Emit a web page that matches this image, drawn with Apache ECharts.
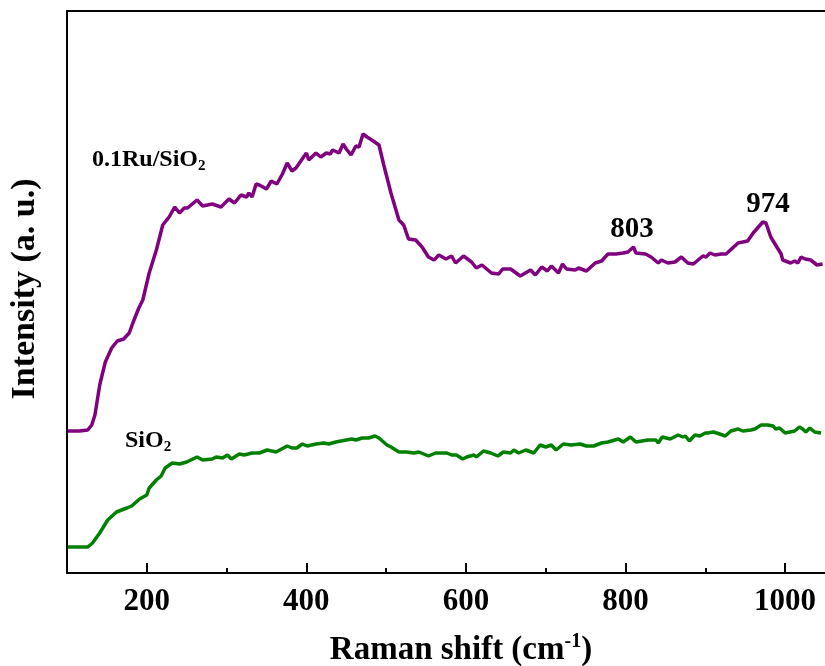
<!DOCTYPE html>
<html>
<head>
<meta charset="utf-8">
<script src="https://cdn.jsdelivr.net/npm/echarts@6/dist/echarts.min.js"></script>
<style>
  html, body { margin: 0; padding: 0; background: #fff; }
  #main { width: 825px; height: 666px; }
</style>
</head>
<body>
<div id="main"></div>
<script>
// Raman shift (cm-1) and intensity (a. u., offset)
var shiftRu = [101, 116, 126, 131, 135, 141, 148, 156, 163, 171, 178, 183, 190, 195, 203, 212, 220, 228, 235, 241,
  247, 251, 263, 270, 282, 293, 303, 310, 318, 325, 328, 332, 337, 341, 350, 356, 363, 370, 376, 382,
  387, 400, 403, 412, 418, 425, 430, 433, 441, 446, 450, 456, 462, 466, 471, 476, 482, 491, 497, 506,
  516, 522, 528, 537, 545, 553, 560, 566, 575, 582, 587, 597, 607, 613, 620, 632, 641, 646, 656, 668,
  681, 687, 695, 702, 707, 716, 721, 726, 737, 741, 751, 762, 770, 778, 788, 797, 803, 810, 813, 825,
  832, 841, 845, 853, 862, 870, 878, 885, 897, 901, 906, 912, 920, 926, 941, 953, 960, 972, 976, 982,
  995, 997, 1007, 1012, 1016, 1020, 1025, 1032, 1040, 1047];
var intensityRu = [142, 142, 143, 148, 158, 188, 211, 225, 232, 234, 240, 251, 265, 273, 300, 323, 348, 356, 366, 360,
  365, 365, 373, 367, 369, 366, 374, 370, 378, 376, 380, 376, 389, 388, 384, 392, 389, 399, 410, 402,
  405, 420, 413, 420, 416, 420, 419, 423, 420, 429, 424, 418, 427, 426, 439, 436, 433, 428, 408, 380,
  353, 348, 334, 333, 326, 316, 313, 318, 314, 317, 310, 317, 311, 305, 308, 300, 299, 304, 304, 297,
  303, 298, 306, 302, 307, 300, 309, 304, 303, 305, 302, 310, 312, 319, 319, 320, 321, 326, 320, 319,
  316, 310, 313, 310, 311, 316, 310, 309, 317, 316, 320, 318, 319, 319, 330, 332, 340, 351, 350, 336,
  319, 313, 310, 312, 310, 316, 314, 313, 308, 309];

var shiftSi = [101, 126, 132, 141, 151, 162, 175, 181, 191, 200, 203, 212, 218, 223, 232, 241, 250, 252, 263, 270,
  282, 287, 295, 301, 306, 316, 322, 332, 341, 351, 362, 376, 382, 388, 395, 401, 412, 422, 428, 437,
  450, 457, 462, 470, 478, 486, 491, 501, 506, 516, 525, 535, 541, 553, 562, 576, 582, 588, 596, 601,
  610, 613, 622, 631, 640, 647, 656, 660, 666, 675, 685, 693, 700, 707, 713, 722, 732, 743, 751, 760,
  770, 778, 791, 797, 806, 813, 828, 838, 841, 846, 856, 866, 872, 875, 880, 887, 893, 900, 903, 910,
  918, 925, 932, 941, 947, 957, 962, 970, 978, 985, 988, 993, 1000, 1006, 1012, 1018, 1022, 1026, 1031, 1037,
  1045];
var intensitySi = [26, 26, 30, 40, 53, 61, 65, 67, 74, 78, 85, 93, 97, 105, 110, 109, 111, 110, 116, 113,
  114, 116, 115, 118, 114, 119, 118, 120, 120, 123, 121, 127, 125, 125, 129, 127, 129, 130, 129, 131,
  133, 134, 133, 135, 135, 137, 135, 128, 126, 121, 121, 120, 121, 117, 120, 120, 118, 118, 114, 116,
  118, 116, 122, 120, 117, 121, 120, 123, 120, 123, 120, 128, 126, 128, 123, 129, 128, 129, 127, 127,
  130, 131, 134, 131, 136, 131, 133, 133, 130, 136, 134, 138, 136, 137, 132, 138, 137, 140, 140, 141,
  139, 137, 142, 144, 142, 143, 144, 148, 148, 147, 144, 145, 140, 141, 142, 146, 144, 141, 145, 141,
  140];

var majorTicks = [200, 400, 600, 800, 1000];
var minorTicks = [300, 500, 700, 900];

function pairs(xs, ys) {
  var out = [];
  for (var i = 0; i < xs.length; i++) {
    out.push([xs[i], ys[i]]);
  }
  return out;
}

var serif = "'Liberation Serif', 'Times New Roman', serif";
var chart = echarts.init(document.getElementById('main'));

var option = {
  animation: false,
  backgroundColor: '#fff',
  grid: {
    left: 67,
    top: 11,
    width: 760,
    height: 562
  },
  xAxis: [{
    type: 'value',
    min: 100,
    max: 1050,
    axisLine: { lineStyle: { color: '#000', width: 2 } },
    axisTick: {
      inside: true,
      length: 10,
      lineStyle: { color: '#000', width: 2 },
      customValues: majorTicks
    },
    axisLabel: {
      customValues: majorTicks,
      formatter: function (v) { return String(v); },
      margin: 13,
      color: '#000',
      fontFamily: serif,
      fontWeight: 'bold',
      fontSize: 31
    },
    splitLine: { show: false }
  }, {
    type: 'value',
    position: 'bottom',
    min: 100,
    max: 1050,
    axisLine: { show: false },
    axisTick: {
      inside: true,
      length: 5,
      lineStyle: { color: '#000', width: 2 },
      customValues: minorTicks
    },
    axisLabel: { show: false },
    splitLine: { show: false }
  }, {
    // top frame line only
    type: 'value',
    position: 'top',
    min: 100,
    max: 1050,
    axisLine: { show: true, lineStyle: { color: '#000', width: 2 } },
    axisTick: { show: false },
    axisLabel: { show: false },
    splitLine: { show: false }
  }],
  yAxis: {
    type: 'value',
    min: 0,
    max: 562,
    axisLine: { show: true, lineStyle: { color: '#000', width: 2 } },
    axisTick: { show: false },
    axisLabel: { show: false },
    splitLine: { show: false }
  },
  series: [{
    name: '0.1Ru/SiO2',
    type: 'line',
    data: pairs(shiftRu, intensityRu),
    symbol: 'none',
    lineStyle: { color: '#800080', width: 3.5 }
  }, {
    name: 'SiO2',
    type: 'line',
    data: pairs(shiftSi, intensitySi),
    symbol: 'none',
    lineStyle: { color: '#008000', width: 3.5 }
  }],
  graphic: [{
    type: 'text',
    x: 92, y: 160,
    style: {
      text: '{a|0.1Ru/SiO}{s|2}',
      textVerticalAlign: 'middle',
      rich: {
        a: { fontFamily: serif, fontWeight: 'bold', fontSize: 24, fill: '#000' },
        s: { fontFamily: serif, fontWeight: 'bold', fontSize: 15, fill: '#000', padding: [13, 0, 0, 0] }
      }
    }
  }, {
    type: 'text',
    x: 125, y: 441,
    style: {
      text: '{a|SiO}{s|2}',
      textVerticalAlign: 'middle',
      rich: {
        a: { fontFamily: serif, fontWeight: 'bold', fontSize: 24, fill: '#000' },
        s: { fontFamily: serif, fontWeight: 'bold', fontSize: 15, fill: '#000', padding: [13, 0, 0, 0] }
      }
    }
  }, {
    type: 'text',
    x: 632, y: 230,
    style: {
      text: '803',
      textAlign: 'center',
      textVerticalAlign: 'middle',
      fontFamily: serif, fontWeight: 'bold', fontSize: 29, fill: '#000'
    }
  }, {
    type: 'text',
    x: 768, y: 205,
    style: {
      text: '974',
      textAlign: 'center',
      textVerticalAlign: 'middle',
      fontFamily: serif, fontWeight: 'bold', fontSize: 29, fill: '#000'
    }
  }, {
    type: 'text',
    x: 461, y: 650,
    style: {
      text: '{a|Raman shift (cm}{p|-1}{a|)}',
      textAlign: 'center',
      textVerticalAlign: 'middle',
      rich: {
        a: { fontFamily: serif, fontWeight: 'bold', fontSize: 33, fill: '#000' },
        p: { fontFamily: serif, fontWeight: 'bold', fontSize: 20, fill: '#000', padding: [0, 0, 16, 0] }
      }
    }
  }, {
    type: 'text',
    x: 25, y: 289,
    rotation: Math.PI / 2,
    style: {
      text: 'Intensity (a. u.)',
      textAlign: 'center',
      textVerticalAlign: 'middle',
      fontFamily: serif, fontWeight: 'bold', fontSize: 34, fill: '#000'
    }
  }]
};

chart.setOption(option);
</script>
</body>
</html>
